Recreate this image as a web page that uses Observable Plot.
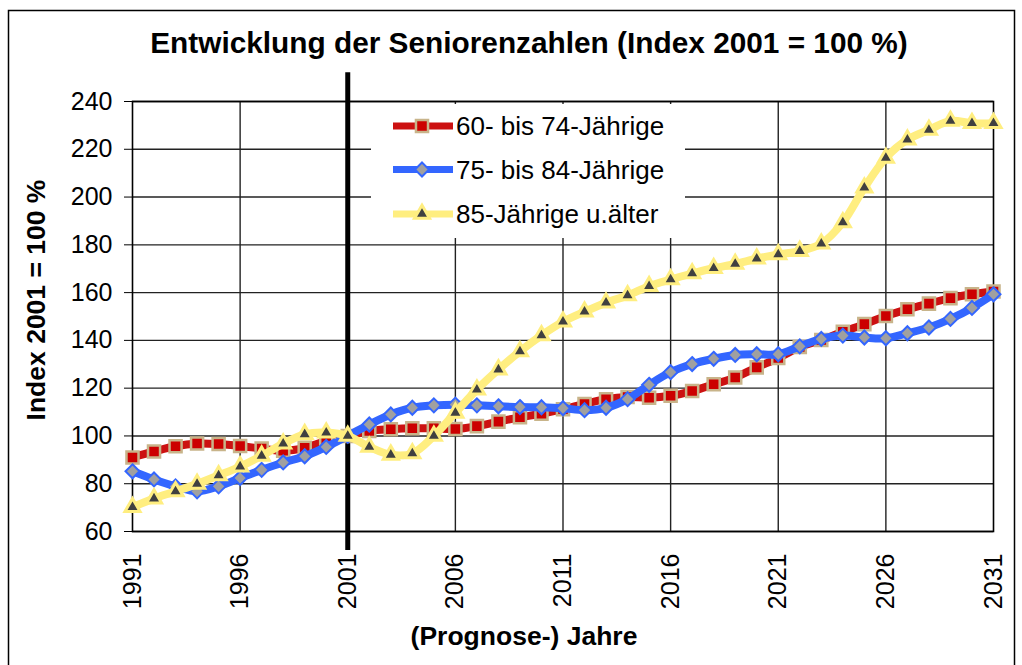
<!DOCTYPE html>
<html><head><meta charset="utf-8">
<script src="https://cdn.jsdelivr.net/npm/d3@7"></script>
<script src="https://cdn.jsdelivr.net/npm/@observablehq/plot@0.6"></script>
<style>body{margin:0;background:#fff} svg{display:block}</style>
</head><body><div id="chart"></div>
<script>
const years = [1991,1992,1993,1994,1995,1996,1997,1998,1999,2000,2001,2002,2003,2004,2005,2006,2007,2008,2009,2010,2011,2012,2013,2014,2015,2016,2017,2018,2019,2020,2021,2022,2023,2024,2025,2026,2027,2028,2029,2030,2031];
const seriesNames = ["60- bis 74-Jährige","75- bis 84-Jährige","85-Jährige u.älter"];
const s60_74 = [91.0,93.5,95.7,96.8,96.6,95.8,94.7,93.8,95.0,97.9,100,102.1,102.8,103.2,103.2,102.9,104.1,106.0,107.8,109.3,111.2,113.4,115.4,116.3,116.0,116.8,118.8,121.6,124.5,128.7,132.6,137.2,140.2,143.6,146.8,150.2,153.0,155.4,157.7,159.3,160.5];
const s75_84 = [85.2,81.8,78.9,76.8,78.9,82.4,85.8,88.9,91.5,95.4,100,104.8,109.0,111.8,112.8,113.1,112.8,112.4,112.1,112.0,111.6,110.8,111.8,115.4,121.4,126.7,130.1,132.3,133.9,134.2,134.2,137.5,140.6,142.0,141.2,140.9,143.0,145.4,149.0,153.6,159.3];
const s85plus = [70.2,73.8,76.8,79.9,83.5,87.2,91.7,96.8,100.7,101.4,100,95.4,92.1,92.7,100,109.7,119.4,127.8,135.4,142.1,147.8,152.0,155.8,158.8,162.7,165.5,168.0,170.2,172.0,174.2,176.0,177.4,180.5,189.4,203.9,216.4,224.0,228.1,231.9,230.9,230.9];
const yTicks = [60,80,100,120,140,160,180,200,220,240];
const xTicks = [1991,1996,2001,2006,2011,2016,2021,2026,2031];
const baseYear = [2001];

const allSeries = [s60_74, s75_84, s85plus];
const styles = [
  {line:"#CC1111", symbol:"square", fill:"#CC0000", stroke:"#C8B48A", r:6.8, sw:2.5},
  {line:"#3366FF", symbol:"diamond2", fill:"#A0A0A0", stroke:"#3366FF", r:6.3, sw:2},
  {line:"#FFEE80", symbol:"triangle", fill:"#404040", stroke:"#FFEE80", r:5.6, sw:3}
];
const rows = allSeries.map(vals => years.map((y,i)=>({year:y, value:vals[i]})));

const font = "'Liberation Sans', Arial, Helvetica, sans-serif";
const seriesMarks = rows.flatMap((d,k)=>[
  Plot.line(d,{x:"year",y:"value",stroke:styles[k].line,strokeWidth:8,curve:"catmull-rom",strokeLinecap:"round",strokeLinejoin:"round"}),
  Plot.dot(d,{x:"year",y:"value",symbol:styles[k].symbol,r:styles[k].r,fill:styles[k].fill,stroke:styles[k].stroke,strokeWidth:styles[k].sw})
]);

const chart = Plot.plot({
  width:1022, height:665,
  marginLeft:132, marginRight:29, marginTop:101, marginBottom:134,
  style:{fontFamily:font, background:"#fff", color:"#000"},
  x:{domain:[1991,2031]},
  y:{domain:[60,240]},
  marks:[
    Plot.gridY(yTicks,{stroke:"#222",strokeOpacity:1,strokeWidth:1.4}),
    Plot.gridX(xTicks.slice(1,-1),{stroke:"#222",strokeOpacity:1,strokeWidth:1.4}),
    Plot.frame({stroke:"#000",strokeWidth:1.6}),
    Plot.axisY(yTicks,{tickSize:8,tickPadding:12,fontSize:25,label:null,tickFormat:d=>String(d),stroke:"#000"}),
    Plot.axisX(xTicks,{tickSize:0,tickRotate:-90,tickPadding:22,fontSize:25,label:null,tickFormat:d=>String(d)}),
    Plot.ruleX(baseYear,{y1:52,y2:252,stroke:"#000",strokeWidth:5}),
    ...seriesMarks
  ]
});
document.getElementById("chart").appendChild(chart);

const svg = d3.select(chart);
// outer border
svg.append("rect").attr("x",8.5).attr("y",10.5).attr("width",1006).attr("height",700)
  .attr("fill","none").attr("stroke","#000").attr("stroke-width",1.5);
// title
svg.append("text").attr("x",529).attr("y",53).attr("text-anchor","middle")
  .attr("font-family",font).attr("font-weight","bold").attr("font-size",29.8).text("Entwicklung der Seniorenzahlen (Index 2001 = 100 %)");
// axis titles
svg.append("text").attr("transform","translate(45,300) rotate(-90)").attr("text-anchor","middle")
  .attr("font-family",font).attr("font-weight","bold").attr("font-size",26.5).text("Index 2001 = 100 %");
svg.append("text").attr("x",524).attr("y",645).attr("text-anchor","middle")
  .attr("font-family",font).attr("font-weight","bold").attr("font-size",26.5).text("(Prognose-) Jahre");
// legend
const lg = svg.append("g");
lg.append("rect").attr("x",371).attr("y",104).attr("width",314).attr("height",134).attr("fill","#fff");
const symMap = {square:d3.symbolSquare, diamond2:d3.symbolDiamond2, triangle:d3.symbolTriangle};
const ly = [126,169.5,214];
seriesNames.forEach((name,k)=>{
  const st = styles[k];
  lg.append("line").attr("x1",393).attr("x2",453).attr("y1",ly[k]).attr("y2",ly[k])
    .attr("stroke",st.line).attr("stroke-width",7);
  lg.append("path").attr("transform",`translate(422,${ly[k]})`)
    .attr("d",d3.symbol(symMap[st.symbol], Math.PI*st.r*st.r)())
    .attr("fill",st.fill).attr("stroke",st.stroke).attr("stroke-width",st.sw);
  lg.append("text").attr("x",456).attr("y",ly[k]+9).attr("text-anchor","start").attr("font-family",font).attr("font-size",26)
    .attr("fill","#000").text(name);
});
</script></body></html>
